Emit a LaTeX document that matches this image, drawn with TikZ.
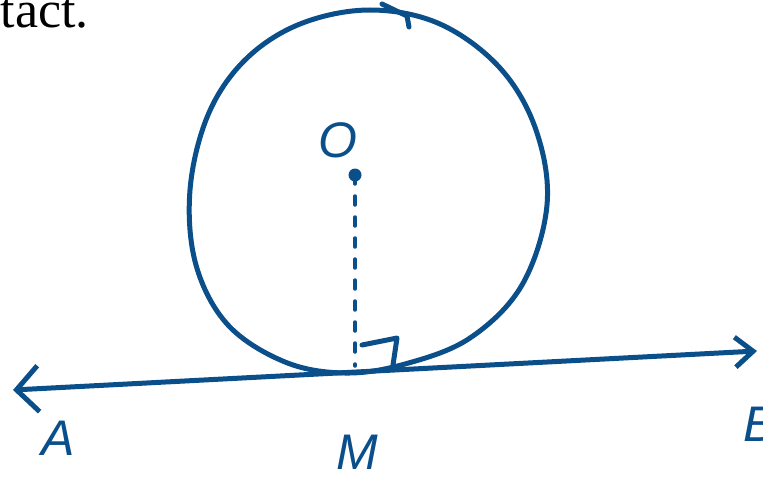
\documentclass[tikz,border=0pt]{standalone}
\usepackage{fontspec}
\setmainfont{Liberation Serif}
\newfontfamily\handfont{Liberation Sans}
\usetikzlibrary{arrows.meta}
\definecolor{inkblue}{HTML}{0B4F8A}
\tikzset{
inkline/.style={draw=inkblue, line width=5pt, line cap=round, line join=round},
inklabel/.style={text=inkblue, font=\handfont\itshape\fontsize{50}{56}\selectfont, inner sep=0pt},
radiusline/.style={draw=inkblue, line width=3.5pt, dash pattern=on 9pt off 12pt, line cap=round}
}
\begin{document}
\begin{tikzpicture}[x=1pt,y=-1pt]
\useasboundingbox (0,0) rectangle (763,484);

% text cut off from the page above
\node[anchor=base east, font=\fontsize{52}{58}\selectfont, inner sep=0pt] (txt) at (89,28) {tact.};

% the circle
\draw[inkline] plot[smooth cycle, tension=0.6] coordinates {
  (370,10) (300,24) (245,60) (208,115) (190,190) (196,265) (228,325)
  (285,362) (345,373) (405,364) (470,338) (522,285) (547,205)
  (536,130) (500,68) (440,24)};
\draw[inkline] (382,4) -- (407,16) -- (409,27);

% centre and radius
\coordinate (ctr) at (355,175);
\coordinate (foot) at (355,366);
\fill[inkblue] (ctr) circle (6.5);
\draw[radiusline] (ctr) -- (foot);
\draw[inkline] (362,345) -- (397,338) -- (393,365);

% tangent line
\coordinate (endA) at (13,390);
\coordinate (endB) at (757,351);
\draw[inkline, {Straight Barb[length=22pt,width=46pt]}-{Straight Barb[length=18pt,width=30pt]}] (endA) -- (endB);

% labels
\node[inklabel] (O) at (338,140) {O};
\node[inklabel] (A) at (58,438) {A};
\node[inklabel] (M) at (357,452) {M};
\node[inklabel] (B) at (760,424) {B};
\end{tikzpicture}
\end{document}
